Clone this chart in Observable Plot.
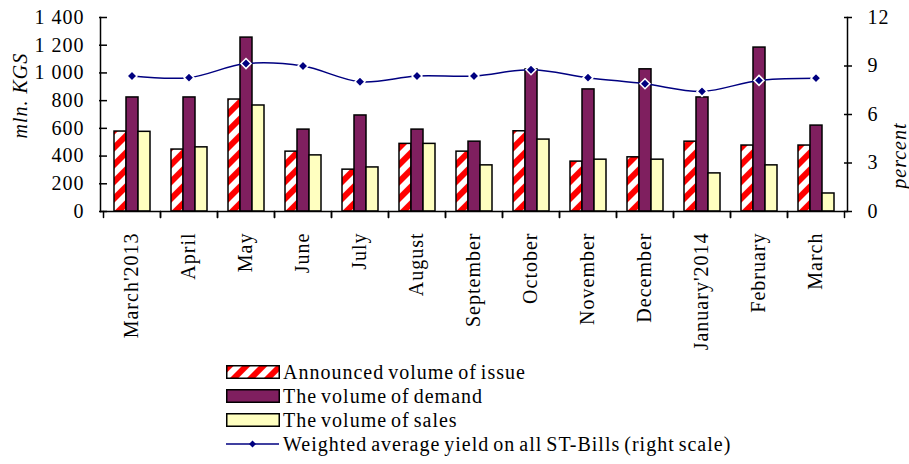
<!DOCTYPE html>
<html><head><meta charset="utf-8">
<script src="https://cdn.jsdelivr.net/npm/d3@7"></script>
<script src="https://cdn.jsdelivr.net/npm/@observablehq/plot@0.6"></script>
<style>
body{margin:0;background:#fff;}
#wrap{position:relative;width:909px;height:464px;font-family:"Liberation Serif",serif;}
.layer{position:absolute;left:0;top:0;}
#legend{position:absolute;left:226px;top:360px;font-size:20px;letter-spacing:1px;word-spacing:-2px;color:#000;}
.row{position:relative;height:24px;width:600px;}
.row svg{position:absolute;left:0;top:4.5px;overflow:visible;}
.row span{position:absolute;left:57px;top:0;line-height:24px;white-space:nowrap;}
</style></head><body><div id="wrap"></div><script>
// ---- data ----
const months = ["March'2013","April","May","June","July","August","September","October","November","December","January'2014","February","March"];
const seriesNames = ["Announced volume of issue","The volume of demand","The volume of sales"];
const lineName = "Weighted average yield on all ST-Bills (right scale)";
const issue  = [577, 447, 808, 432, 302, 488, 432, 579, 360, 391, 504, 476, 476];
const demand = [823, 823, 1255, 591, 693, 591, 504, 1025, 881, 1026, 823, 1183, 620];
const sales  = [575, 463, 765, 405, 318, 488, 333, 519, 374, 374, 275, 333, 130];
const yieldPct = [8.38, 8.28, 9.15, 9.0, 8.03, 8.38, 8.38, 8.77, 8.28, 7.9, 7.43, 8.11, 8.25];
const leftTicks = [0, 200, 400, 600, 800, 1000, 1200, 1400];
const rightTicks = [0, 3, 6, 9, 12];

// ---- styles ----
const seriesFills = ["url(#hatch)", "#7f1f5f", "#ffffc0"];
const navy = "#000080";
const W = 909, H = 350, ML = 100, MR = 62, MT = 17, MB = 139;
const baseStyle = {fontFamily:"Liberation Serif, serif", fontSize:"20px", letterSpacing:"1px", color:"#000", background:"transparent", overflow:"visible"};

const values = [issue, demand, sales];
const table = months.flatMap((m, i) => seriesNames.map((s, k) => ({month: m, series: s, value: values[k][i]})));
const lineData = months.map((m, i) => ({month: m, yield: yieldPct[i]}));
const fmt = d3.formatLocale({decimal: ".", thousands: " ", grouping: [3], currency: ["", ""]}).format(",d");
const tickShape = {draw(context, l) { context.moveTo(0, 0); context.lineTo(0, -l); }};

const p1 = Plot.plot({
  width: W, height: H, marginLeft: ML, marginRight: MR, marginTop: MT, marginBottom: MB,
  style: baseStyle,
  fx: {domain: months, padding: 0, label: null},
  x: {domain: seriesNames, paddingInner: 0, paddingOuter: 0.75, axis: null},
  y: {domain: [0, 1400], label: null},
  marks: [
    ...seriesNames.map((s, k) => Plot.barY(table.filter(d => d.series === s), {
      fx: "month", x: "series", y: "value", fill: seriesFills[k], stroke: "#000", strokeWidth: 1.5
    })),
    Plot.axisY({anchor: "left", ticks: leftTicks, tickFormat: fmt, tickSize: 8, dx: 4, tickPadding: 15, label: null, strokeWidth: 1.5}),
    Plot.axisFx({anchor: "bottom", tickSize: 0, tickRotate: -90, tickPadding: 21, label: null}),
    Plot.vector([0], {frameAnchor: "bottom-left", length: 6, rotate: 180, anchor: "start", shape: tickShape, stroke: "#000", strokeWidth: 1.5}),
    Plot.vector([0], {frameAnchor: "bottom-right", length: 6, rotate: 180, anchor: "start", shape: tickShape, stroke: "#000", strokeWidth: 1.5})
  ]
});
const ns = "http://www.w3.org/2000/svg";
const defs = document.createElementNS(ns, "defs");
defs.innerHTML = '<pattern id="hatch" patternUnits="userSpaceOnUse" width="12" height="12" patternTransform="rotate(45)"><rect width="12" height="12" fill="#ffffff"/><rect width="6" height="12" fill="#ff0000"/></pattern>';
p1.insertBefore(defs, p1.firstChild);

const p2 = Plot.plot({
  width: W, height: H, marginLeft: ML, marginRight: MR, marginTop: MT, marginBottom: MB,
  style: baseStyle,
  x: {type: "band", domain: months, padding: 0, axis: null},
  y: {domain: [0, 12], label: null},
  marks: [
    Plot.ruleY([0], {stroke: "#000", strokeWidth: 1.5}),
    Plot.frame({anchor: "left", stroke: "#000", strokeWidth: 1.5}),
    Plot.frame({anchor: "right", stroke: "#000", strokeWidth: 1.5}),
    Plot.axisY({anchor: "right", ticks: rightTicks, tickSize: 8, dx: -4, tickPadding: 16, label: null, strokeWidth: 1.5}),
    Plot.text(["mln. KGS"], {frameAnchor: "left", dx: -80, dy: 24, rotate: -90, fontStyle: "italic", letterSpacing: "0.5px"}),
    Plot.text(["percent"], {frameAnchor: "right", dx: 52, dy: 8, rotate: -90, fontStyle: "italic"}),
    Plot.line(lineData, {x: "month", y: "yield", curve: "catmull-rom", stroke: navy, strokeWidth: 1.5}),
    Plot.dot(lineData, {x: "month", y: "yield", symbol: "diamond2", r: 4.5, fill: navy, stroke: "#fff", strokeWidth: 1.5})
  ]
});

const wrap = document.getElementById("wrap");
p1.classList.add("layer"); p2.classList.add("layer");
wrap.appendChild(p1); wrap.appendChild(p2);

// ---- legend ----
const legend = document.createElement("div");
legend.id = "legend";
const swatches = [
  `<svg width="54" height="14"><rect x="0.75" y="0.75" width="52.5" height="12.5" fill="${seriesFills[0]}" stroke="#000" stroke-width="1.5"/></svg>`,
  `<svg width="54" height="14"><rect x="0.75" y="0.75" width="52.5" height="12.5" fill="${seriesFills[1]}" stroke="#000" stroke-width="1.5"/></svg>`,
  `<svg width="54" height="14"><rect x="0.75" y="0.75" width="52.5" height="12.5" fill="${seriesFills[2]}" stroke="#000" stroke-width="1.5"/></svg>`,
  `<svg width="54" height="14"><line x1="0" x2="53" y1="7" y2="7" stroke="${navy}" stroke-width="1.5"/><path d="M26.5,3.5L30,7L26.5,10.5L23,7Z" fill="${navy}"/></svg>`
];
[...seriesNames, lineName].forEach((name, i) => {
  const row = document.createElement("div");
  row.className = "row";
  row.innerHTML = swatches[i] + `<span>${name}</span>`;
  legend.appendChild(row);
});
wrap.appendChild(legend);
</script></body></html>
